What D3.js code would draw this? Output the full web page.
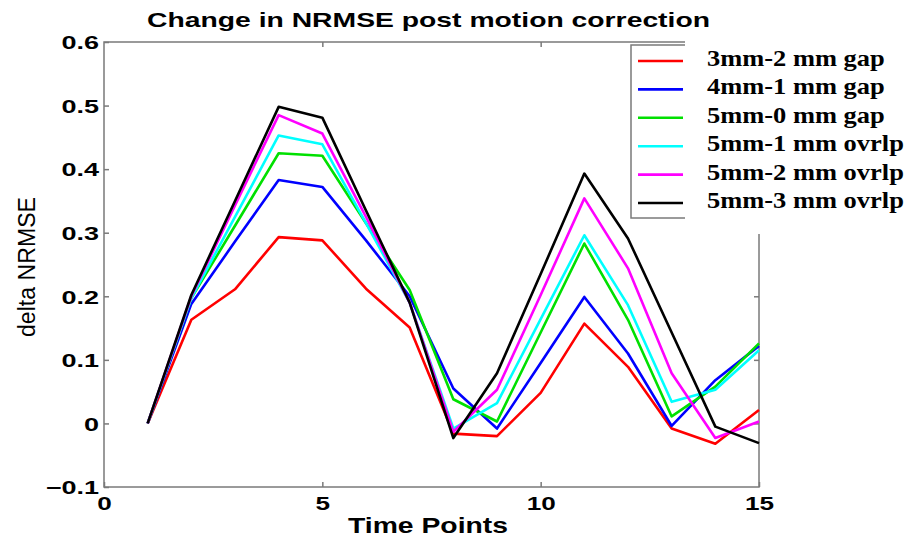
<!DOCTYPE html>
<meta charset="utf-8">
<style>
body { margin: 0; background: #fff; }
.chart text { fill: #000; font-family: "Liberation Sans", Arial, sans-serif; }
.frame { stroke: #7a7a7a; stroke-width: 1.5; fill: none; }
.axis path { display: none; }
.axis line { stroke: #7a7a7a; stroke-width: 1.5; }
.axis text { font-size: 18px; font-weight: bold; }
.legend text { font-family: "Liberation Serif", "Times New Roman", serif; font-size: 23px; font-weight: bold; }
</style>

<svg class="chart" width="909" height="540"></svg>

<script src="https://cdn.jsdelivr.net/npm/d3@7"></script>

<script>

// time points 1..15
var timePoints = [1, 2, 3, 4, 5, 6, 7, 8, 9, 10, 11, 12, 13, 14, 15];

var seriesNames = ["3mm-2 mm gap", "4mm-1 mm gap", "5mm-0 mm gap",
                   "5mm-1 mm ovrlp", "5mm-2 mm ovrlp", "5mm-3 mm ovrlp"];
var seriesColors = ["#ff0000", "#0000ff", "#00e000", "#00ffff", "#ff00ff", "#000000"];

var gap3mm2  = [0, 0.163, 0.211, 0.293, 0.288, 0.212, 0.151, -0.016, -0.020, 0.048, 0.157, 0.089, -0.008, -0.032, 0.021];
var gap4mm1  = [0, 0.188, 0.286, 0.383, 0.372, 0.288, 0.200, 0.055, -0.008, 0.095, 0.199, 0.110, -0.004, 0.068, 0.122];
var gap5mm0  = [0, 0.197, 0.311, 0.425, 0.421, 0.315, 0.210, 0.038, 0.003, 0.143, 0.283, 0.163, 0.011, 0.058, 0.126];
var ovr5mm1  = [0, 0.197, 0.325, 0.453, 0.439, 0.315, 0.190, -0.008, 0.032, 0.164, 0.296, 0.186, 0.034, 0.053, 0.115];
var ovr5mm2  = [0, 0.200, 0.343, 0.485, 0.456, 0.325, 0.190, -0.013, 0.053, 0.202, 0.354, 0.244, 0.079, -0.023, 0.003];
var ovr5mm3  = [0, 0.202, 0.350, 0.498, 0.481, 0.335, 0.190, -0.023, 0.079, 0.235, 0.393, 0.291, 0.143, -0.005, -0.031];

var seriesValues = [gap3mm2, gap4mm1, gap5mm0, ovr5mm1, ovr5mm2, ovr5mm3];

var xTicks = [0, 5, 10, 15];
var yTicks = [-0.1, 0, 0.1, 0.2, 0.3, 0.4, 0.5, 0.6];

</script>

<script>

var plot = {left: 104, right: 759, top: 42, bottom: 487};

var svg = d3.select(".chart");

var x = d3.scaleLinear().domain([0, 15]).range([plot.left, plot.right]);
var y = d3.scaleLinear().domain([-0.1, 0.6]).range([plot.bottom, plot.top]);

// stretch text horizontally like the original picture
function stretch(sel, k) {
	sel.each(function() {
		var w = this.getComputedTextLength();
		d3.select(this).attr("textLength", w * k).attr("lengthAdjust", "spacingAndGlyphs");
	});
}

// axes, ticks pointing inward
var xAxis = svg.append("g").attr("class", "x axis")
	.attr("transform", "translate(0," + plot.bottom + ")")
	.call(d3.axisBottom(x).tickValues(xTicks).tickSizeInner(-5).tickSizeOuter(0).tickPadding(10));
stretch(xAxis.selectAll("text"), 1.45);

var yAxis = svg.append("g").attr("class", "y axis")
	.attr("transform", "translate(" + plot.left + ",0)")
	.call(d3.axisLeft(y).tickValues(yTicks).tickSizeInner(-5).tickSizeOuter(0).tickPadding(5)
		.tickFormat(function(d) { return d === 0 ? "0" : d3.format(".1f")(d); }));
yAxis.selectAll("text").attr("dy", "0.38em");
stretch(yAxis.selectAll("text"), 1.5);

svg.append("g").attr("class", "axis")
	.attr("transform", "translate(0," + plot.top + ")")
	.call(d3.axisTop(x).tickValues(xTicks.slice(1, 3)).tickSizeInner(-5).tickSizeOuter(0).tickFormat(""));

svg.append("g").attr("class", "axis")
	.attr("transform", "translate(" + plot.right + ",0)")
	.call(d3.axisRight(y).tickValues(yTicks.slice(1, 7)).tickSizeInner(-5).tickSizeOuter(0).tickFormat(""));

svg.append("rect").attr("class", "frame")
	.attr("x", plot.left).attr("y", plot.top)
	.attr("width", plot.right - plot.left).attr("height", plot.bottom - plot.top);

// lines
var line = d3.line()
	.x(function(d, i) { return x(timePoints[i]); })
	.y(function(d) { return y(d); });

svg.append("g").selectAll("path")
	.data(seriesValues)
	.enter().append("path")
	.attr("d", line)
	.attr("fill", "none")
	.attr("stroke", function(d, i) { return seriesColors[i]; })
	.attr("stroke-width", 2.6)
	.attr("stroke-linejoin", "round");

// legend box (its right part is covered by the pasted labels)
svg.append("rect")
	.attr("x", 631).attr("y", 45).attr("width", 120).attr("height", 173)
	.attr("fill", "#fff").attr("stroke", "#7a7a7a").attr("stroke-width", 1.5);

svg.append("rect")
	.attr("x", 685).attr("y", 36).attr("width", 224).attr("height", 198)
	.attr("fill", "#fff");

var legend = svg.append("g").attr("class", "legend");

legend.selectAll("line")
	.data(seriesNames)
	.enter().append("line")
	.attr("x1", 638).attr("x2", 683)
	.attr("y1", function(d, i) { return 61 + i * 28.4; })
	.attr("y2", function(d, i) { return 61 + i * 28.4; })
	.attr("stroke", function(d, i) { return seriesColors[i]; })
	.attr("stroke-width", 2.6);

var legendText = legend.selectAll("text")
	.data(seriesNames)
	.enter().append("text")
	.attr("x", 707)
	.attr("y", function(d, i) { return 66 + i * 28.4; })
	.text(function(d) { return d; });
stretch(legendText, 1.15);

// titles
svg.append("text")
	.attr("x", 428.5).attr("y", 27)
	.attr("text-anchor", "middle")
	.style("font-size", "21px").style("font-weight", "bold")
	.attr("textLength", 563).attr("lengthAdjust", "spacingAndGlyphs")
	.text("Change in NRMSE post motion correction");

svg.append("text")
	.attr("x", 428).attr("y", 533)
	.attr("text-anchor", "middle")
	.style("font-size", "22px").style("font-weight", "bold")
	.attr("textLength", 160).attr("lengthAdjust", "spacingAndGlyphs")
	.text("Time Points");

svg.append("text")
	.attr("transform", "translate(35,267) rotate(-90)")
	.attr("text-anchor", "middle")
	.style("font-size", "23px")
	.attr("textLength", 140).attr("lengthAdjust", "spacingAndGlyphs")
	.text("delta NRMSE");

</script>
